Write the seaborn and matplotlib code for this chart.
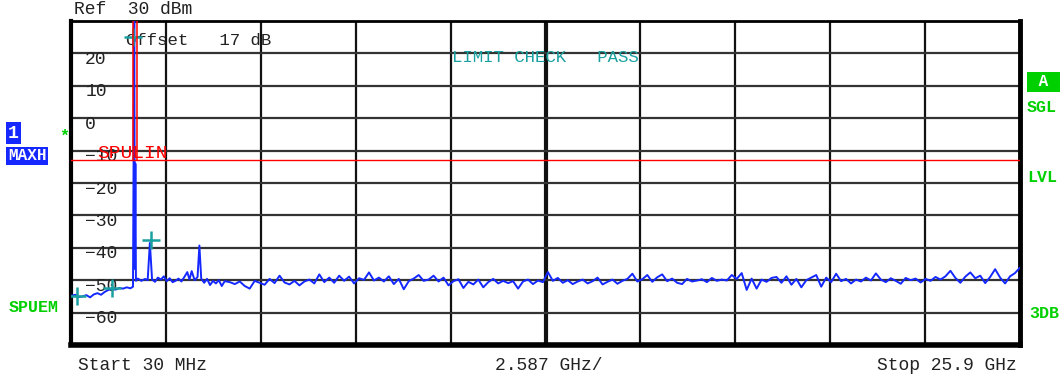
import numpy as np
import pandas as pd
import seaborn as sns
import matplotlib.pyplot as plt

# sweep settings (GHz / dBm)
f_start = 0.03
f_stop = 25.9
ref_level = 30
limit_level = -13

# low band, read point by point (carrier + harmonic region)
freq_low = [0.03, 0.15, 0.25, 0.35, 0.45, 0.55, 0.65, 0.75, 0.85, 0.95,
            1.05, 1.15, 1.25, 1.35, 1.45, 1.55, 1.65, 1.72, 1.755, 1.77,
            1.785, 1.80, 1.85, 1.95, 2.05, 2.12, 2.18, 2.24, 2.32,
            2.40, 2.48, 2.56, 2.64, 2.72, 2.80, 2.88, 2.96, 3.04, 3.12,
            3.20, 3.26, 3.32, 3.40, 3.48, 3.53, 3.58, 3.66, 3.74, 3.82,
            3.90, 3.98, 4.06, 4.14, 4.22]
level_low = [-54.8, -54.5, -55.2, -55.0, -54.6, -55.3, -54.4, -54.0, -54.5, -53.6,
             -53.0, -52.6, -52.9, -52.4, -52.6, -52.2, -52.5, -52.0, 34.0, -46.5,
             -14.0, -50.2, -49.5, -50.2, -49.6, -50.0, -38.5, -49.8, -50.5,
             -49.2, -49.8, -48.8, -50.3, -49.4, -50.6, -50.2, -49.5, -50.4, -49.0,
             -47.5, -49.8, -47.2, -50.0, -49.0, -39.3, -49.5, -50.8, -49.6, -51.5,
             -50.2, -51.0, -50.0, -51.8, -50.3]

# rest of the sweep, one value per ~5 px of screen
level_high = [-50.6, -51.2, -50.4, -51.8, -52.6, -50.2, -50.8, -51.4, -49.6, -50.9,
              -48.6, -50.7, -51.3, -50.2, -51.6, -50.4, -49.8, -51.0, -48.2, -50.6,
              -49.2, -50.8, -48.6, -50.2, -48.9, -51.0, -49.4, -49.9, -47.6, -50.1,
              -49.2, -50.4, -48.8, -51.2, -49.6, -52.8, -50.3, -49.5, -48.4, -50.2,
              -49.8, -48.6, -50.4, -49.2, -51.6, -50.3, -49.7, -52.4, -50.5, -51.3,
              -49.8, -52.2, -50.6, -49.6, -51.0, -50.2, -50.9, -50.3, -52.6, -50.4,
              -49.8, -51.2, -50.1, -50.6, -47.5, -50.2, -49.3, -50.8, -50.0, -51.2,
              -50.4, -49.8, -51.0, -50.3, -49.2, -51.3, -50.5, -49.8, -51.1, -50.2,
              -49.6, -48.0, -50.4, -49.7, -48.4, -50.5, -49.1, -48.2, -50.3, -49.5,
              -50.8, -51.2, -49.6, -50.4, -50.1, -49.7, -50.6, -49.3, -50.2, -49.8,
              -50.1, -48.4, -49.6, -47.8, -53.0, -49.5, -52.6, -49.8, -50.5, -49.3,
              -49.0, -50.8, -48.8, -51.4, -49.6, -52.2, -50.0, -49.2, -48.4, -52.0,
              -49.2, -50.6, -48.0, -50.3, -49.6, -51.0, -49.8, -50.4, -49.2, -50.1,
              -47.9, -49.8, -50.6, -49.4, -50.2, -51.1, -49.3, -50.0, -49.5, -50.7,
              -49.6, -50.2, -49.0, -49.8, -48.8, -47.1, -49.3, -50.8, -48.9, -47.6,
              -49.4, -48.6, -50.9, -49.0, -46.6, -49.2, -51.0, -48.8, -47.8, -46.1]
freq_high = np.linspace(4.36, f_stop, len(level_high))

# markers
marker_freq = [0.19, 1.15, 2.20, 1.72]
marker_level = [-55.0, -52.5, -37.7, 25.0]

# exclusion band edges around the carrier
excl_freq = [1.71, 1.83]

y_ticks = [20, 10, 0, -10, -20, -30, -40, -50, -60]

trace = pd.DataFrame({'freq': list(freq_low) + list(freq_high),
                      'level': level_low + level_high})
markers = pd.DataFrame({'freq': marker_freq, 'level': marker_level})

sns.set_style('white')
plt.rcParams['font.family'] = ['Liberation Mono', 'DejaVu Sans Mono']

fig = plt.figure(figsize=(10.63, 3.8), dpi=100)
ax = fig.add_axes([71 / 1063, 1 - 345 / 380, 949 / 1063, 324 / 380])

teal = '#1aa0a0'
green = '#00d000'
blue = '#1428ff'
txt = '#222222'

# graticule
for i in range(1, 10):
    xv = f_start + i * (f_stop - f_start) / 10
    ax.axvline(xv, color='#111111', lw=3 if i == 5 else 1.6, zorder=1)
for yv in y_ticks:
    ax.axhline(yv, color='#333333', lw=1.6, zorder=1)
    ax.text(0.015, yv - 1.9, '\u2212' + str(abs(yv)) if yv < 0 else str(yv),
            transform=ax.get_yaxis_transform(), fontsize=13, va='center',
            ha='left', color=txt, zorder=2)

sns.lineplot(data=trace, x='freq', y='level', ax=ax, color=blue, lw=1.4,
             sort=False, estimator=None, zorder=4)
sns.scatterplot(data=markers, x='freq', y='level', ax=ax, marker='+',
                s=150, color=teal, linewidth=1.8, zorder=5)

# limit line
ax.axhline(limit_level, color='red', lw=1, zorder=6)
for xv in excl_freq:
    ax.plot([xv, xv], [limit_level, ref_level], color='red', lw=1.1, zorder=6)

ax.set_xlim(f_start, f_stop)
ax.set_ylim(-70, ref_level)
ax.set_xticks([])
ax.set_yticks([])
ax.set_xlabel('')
ax.set_ylabel('')
for side, w in [('left', 3), ('bottom', 4), ('right', 3.5), ('top', 2)]:
    ax.spines[side].set_linewidth(w)
    ax.spines[side].set_color('black')

# texts inside the graticule
ax.text(0.058, 0.94, 'Offset   17 dB', transform=ax.transAxes, fontsize=12.5,
        va='center', ha='left', color=txt)
ax.text(0.401, 0.888, 'LIMIT CHECK   PASS', transform=ax.transAxes,
        fontsize=12.5, va='center', ha='left', color=teal)
ax.text(0.028, 0.592, 'SPULIN', transform=ax.transAxes, fontsize=14,
        va='center', ha='left', color='red', zorder=7)

# annotations around the screen
fig.text(74 / 1063, 1 - 10 / 380, 'Ref  30 dBm', fontsize=13, va='center',
         color=txt)
fig.text(78 / 1063, 1 - 366 / 380, 'Start 30 MHz', fontsize=13, va='center',
         color=txt)
fig.text(549 / 1063, 1 - 366 / 380, '2.587 GHz/', fontsize=13, va='center',
         ha='center', color=txt)
fig.text(1017 / 1063, 1 - 366 / 380, 'Stop 25.9 GHz', fontsize=13,
         va='center', ha='right', color=txt)

fig.text(8 / 1063, 1 - 133 / 380, '1', fontsize=13, va='center',
         color='white', fontweight='bold',
         bbox=dict(boxstyle='square,pad=0.12', fc=blue, ec='none'))
fig.text(8 / 1063, 1 - 156 / 380, 'MAXH', fontsize=11.5, va='center',
         color='white', fontweight='bold',
         bbox=dict(boxstyle='square,pad=0.12', fc=blue, ec='none'))
fig.text(59 / 1063, 1 - 136 / 380, '*', fontsize=12, va='center',
         color=green, fontweight='bold')
fig.text(9 / 1063, 1 - 308 / 380, 'SPUEM', fontsize=12, va='center',
         color=green, fontweight='bold')

fig.text(1029 / 1063, 1 - 82 / 380, ' A ', fontsize=11.5, va='center',
         color='white', fontweight='bold',
         bbox=dict(boxstyle='square,pad=0.15', fc=green, ec='none'))
fig.text(1027 / 1063, 1 - 108 / 380, 'SGL', fontsize=12, va='center',
         color=green, fontweight='bold')
fig.text(1027 / 1063, 1 - 177 / 380, 'LVL', fontsize=12, va='center',
         color=green, fontweight='bold')
fig.text(1029 / 1063, 1 - 313 / 380, '3DB', fontsize=12, va='center',
         color=green, fontweight='bold')

plt.savefig('out.png', dpi=100)
